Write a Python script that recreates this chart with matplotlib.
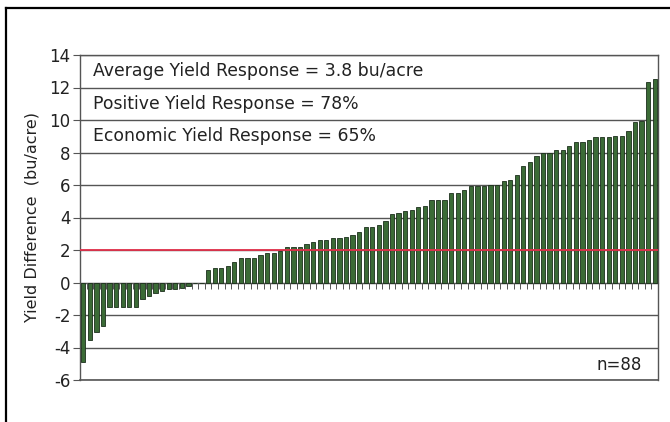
import numpy as np
import matplotlib
matplotlib.use("Agg")
import matplotlib.pyplot as plt
from matplotlib.lines import Line2D

# ---- data (sorted yield differences, bu/acre) ----
yield_diff = [
    -4.9, -3.55, -3.05, -2.65, -1.52, -1.48, -1.48, -1.48, -1.48, -1.0,
    -0.83, -0.64, -0.54, -0.42, -0.4, -0.32, -0.2, -0.05, 0.0,
    0.8, 0.88, 0.9, 1.03, 1.25, 1.5, 1.5, 1.5, 1.72, 1.79, 1.79, 1.95,
    2.16, 2.2, 2.2, 2.35, 2.52, 2.6, 2.6, 2.74, 2.74, 2.82, 2.95, 3.13,
    3.42, 3.40, 3.55, 3.81, 4.21, 4.29, 4.43, 4.49, 4.64, 4.70, 5.05, 5.05,
    5.09, 5.53, 5.53, 5.71, 5.92, 5.92, 5.92, 6.02, 6.02, 6.23,
    6.3, 6.6, 7.2, 7.42, 7.79, 7.95, 8.0, 8.16, 8.16, 8.37, 8.62, 8.62,
    8.76, 8.97, 8.97, 8.97, 9.03, 9.03, 9.32, 9.86, 9.92, 12.35, 12.5,
]
site_index = list(range(len(yield_diff)))
y_ticks = [-6, -4, -2, 0, 2, 4, 6, 8, 10, 12, 14]
threshold = 2
summary_lines = [
    "Average Yield Response = 3.8 bu/acre",
    "Positive Yield Response = 78%",
    "Economic Yield Response = 65%",
]
summary_y = [13, 11, 9]
n_label = "n=88"
y_label = "Yield Difference  (bu/acre)"

W, H = 670, 422
fig = plt.figure(figsize=(W / 100, H / 100), dpi=100)
fig.patch.set_facecolor("white")

# outer frame (top and left visible)
fig.add_artist(Line2D([6 / W, 6 / W], [0, 1 - 8 / H], transform=fig.transFigure,
                      color="black", lw=1.6))
fig.add_artist(Line2D([6 / W, 1], [1 - 8 / H, 1 - 8 / H], transform=fig.transFigure,
                      color="black", lw=1.6))

ax = fig.add_axes([80 / W, 42 / H, 578 / W, 325 / H])
n = len(yield_diff)
ax.bar(site_index, yield_diff, width=0.65, color="#3b6b36",
       edgecolor="#1c2f1c", linewidth=0.6, zorder=3)

ax.set_xlim(-0.5, n - 0.5)
ax.set_ylim(y_ticks[0], y_ticks[-1])
ax.set_yticks(y_ticks)
ax.set_yticklabels([str(t) for t in y_ticks], fontsize=12, color="#222222")
ax.tick_params(axis="y", length=5, width=0.8, color="#555555", pad=2)

# category axis at zero with boundary ticks
ax.spines["bottom"].set_position(("data", 0))
ax.spines["bottom"].set_color("#555555")
ax.set_xticks(np.arange(-0.5, n, 1))
ax.set_xticklabels([])
ax.tick_params(axis="x", length=4, width=0.7, color="#555555", direction="out")

ax.yaxis.grid(True, color="#555555", lw=1.0, zorder=1)
ax.set_axisbelow(True)
for side in ["left", "right", "top"]:
    ax.spines[side].set_color("#555555")
    ax.spines[side].set_linewidth(1.0)

ax.axhline(y_ticks[0], color="#555555", lw=1.2, zorder=1, clip_on=False)

ax.axhline(threshold, color="#e2304a", lw=1.3, zorder=4)

for txt, yy in zip(summary_lines, summary_y):
    ax.text(0.022, yy, txt, transform=ax.get_yaxis_transform(), fontsize=12.4,
            va="center", ha="left", color="#222222", zorder=5)

ax.text(0.972, -5.1, n_label, transform=ax.get_yaxis_transform(), fontsize=12,
        va="center", ha="right", color="#222222")

ax.set_ylabel(y_label, fontsize=11.5, color="#222222", labelpad=7)

fig.savefig("out.png", dpi=100, facecolor="white")
